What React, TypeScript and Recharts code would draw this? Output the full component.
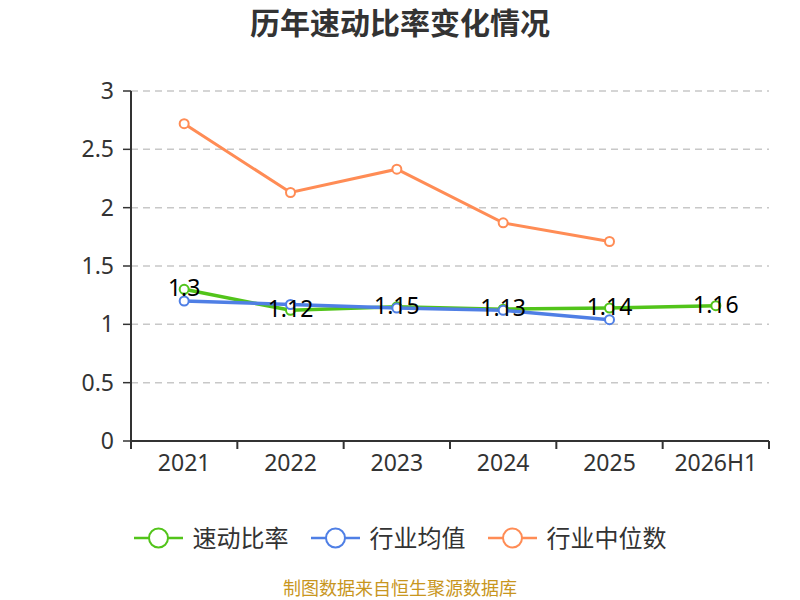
import React from 'react';
import { LineChart, Line, XAxis, YAxis, CartesianGrid, Legend, LabelList } from 'recharts';

const categories = ['2021', '2022', '2023', '2024', '2025', '2026H1'];
const quickRatio = [1.3, 1.12, 1.15, 1.13, 1.14, 1.16];
const industryAvg: (number | null)[] = [1.2, 1.17, 1.14, 1.12, 1.04, null];
const industryMedian: (number | null)[] = [2.72, 2.13, 2.33, 1.87, 1.71, null];
const yTicks = [0, 0.5, 1, 1.5, 2, 2.5, 3];

const seriesNames = ['速动比率', '行业均值', '行业中位数'];
const seriesColors = ['#52c41a', '#4f7fe5', '#ff8c55'];

const data = categories.map((c, i) => ({
  name: c,
  quick: quickRatio[i],
  avg: industryAvg[i],
  median: industryMedian[i],
}));

const FONT = '"Noto Sans", "Noto Sans CJK SC", sans-serif';
const CHART_W = 800;
const CHART_H = 600;
const MARGIN = { top: 91, right: 31, left: 0, bottom: 119 };
const Y_AXIS_W = 131;
const BAND = (CHART_W - MARGIN.right - MARGIN.left - Y_AXIS_W) / categories.length;

const XTick = (props: any) => {
  const { x, y, payload, index } = props;
  const half = BAND / 2;
  return (
    <g>
      <line x1={x - half} x2={x - half} y1={y - 14} y2={y - 6} stroke="#333" strokeWidth={2} />
      {index === categories.length - 1 && (
        <line x1={x + half} x2={x + half} y1={y - 14} y2={y - 6} stroke="#333" strokeWidth={2} />
      )}
      <text x={x} y={y} dy="0.71em" textAnchor="middle" fontSize={23} fill="#333" fontFamily={FONT}>
        {payload.value}
      </text>
    </g>
  );
};

const ValueLabel = (props: any) => {
  const { x, y, value } = props;
  if (value == null) return null;
  return (
    <text x={x} y={y + 7} textAnchor="middle" fontSize={23} fill="#000" fontFamily={FONT}>
      {value}
    </text>
  );
};

const LegendContent = () => (
  <div style={{ display: 'flex', justifyContent: 'center', alignItems: 'center', height: 30, fontFamily: FONT }}>
    {seriesNames.map((n, i) => (
      <div key={n} style={{ display: 'flex', alignItems: 'center', marginRight: i < seriesNames.length - 1 ? 22 : 0 }}>
        <svg width={49} height={24}>
          <line x1={0} x2={49} y1={12} y2={12} stroke={seriesColors[i]} strokeWidth={2.5} />
          <circle cx={24.5} cy={12} r={9.5} fill="#fff" stroke={seriesColors[i]} strokeWidth={2} />
        </svg>
        <span style={{ marginLeft: 10, fontSize: 24, color: '#333', lineHeight: '30px' }}>{n}</span>
      </div>
    ))}
  </div>
);

export default function App() {
  return (
    <div style={{ position: 'absolute', left: 0, top: 0, width: CHART_W, height: CHART_H, fontFamily: FONT, background: '#fff' }}>
      <div
        style={{
          position: 'absolute', top: 0, left: 0, width: CHART_W, textAlign: 'center',
          fontSize: 30, fontWeight: 'bold', color: '#333', lineHeight: '45px',
        }}
      >
        历年速动比率变化情况
      </div>
      <LineChart width={CHART_W} height={CHART_H} data={data} margin={MARGIN}>
        <CartesianGrid vertical={false} stroke="#c8c8c8" strokeDasharray="7 5" strokeWidth={1.5} />
        <XAxis
          dataKey="name"
          height={40}
          tick={<XTick />}
          tickLine={false}
          tickSize={0}
          tickMargin={14}
          axisLine={{ stroke: '#333', strokeWidth: 2 }}
          interval={0}
          padding={{ left: BAND / 2, right: BAND / 2 }}
        />
        <YAxis
          width={Y_AXIS_W}
          domain={[0, 3]}
          ticks={yTicks}
          tickSize={8}
          tickMargin={9}
          tick={{ fontSize: 23, fill: '#333', fontFamily: FONT }}
          tickLine={{ stroke: '#333', strokeWidth: 1.5 }}
          axisLine={{ stroke: '#333', strokeWidth: 2 }}
        />
        <Legend
          verticalAlign="middle"
          layout="horizontal"
          align="center"
          content={<LegendContent />}
          wrapperStyle={{ top: 523, left: 0, width: CHART_W, height: 30 }}
        />
        <Line
          type="linear"
          dataKey="quick"
          name={seriesNames[0]}
          stroke={seriesColors[0]}
          strokeWidth={3.5}
          dot={{ r: 4.5, fill: '#fff', stroke: seriesColors[0], strokeWidth: 2 }}
          isAnimationActive={false}
        />
        <Line
          type="linear"
          dataKey="avg"
          name={seriesNames[1]}
          stroke={seriesColors[1]}
          strokeWidth={3.5}
          dot={{ r: 4.5, fill: '#fff', stroke: seriesColors[1], strokeWidth: 2 }}
          isAnimationActive={false}
        />
        <Line
          type="linear"
          dataKey="median"
          name={seriesNames[2]}
          stroke={seriesColors[2]}
          strokeWidth={3}
          dot={{ r: 4.5, fill: '#fff', stroke: seriesColors[2], strokeWidth: 2 }}
          isAnimationActive={false}
        />
        <Line
          type="linear"
          dataKey="quick"
          stroke="none"
          dot={false}
          activeDot={false}
          legendType="none"
          isAnimationActive={false}
        >
          <LabelList dataKey="quick" content={<ValueLabel />} />
        </Line>
      </LineChart>
      <div
        style={{
          position: 'absolute', top: 576, left: 0, width: CHART_W, textAlign: 'center',
          fontSize: 18, color: '#c8961e', lineHeight: '24px',
        }}
      >
        制图数据来自恒生聚源数据库
      </div>
    </div>
  );
}
